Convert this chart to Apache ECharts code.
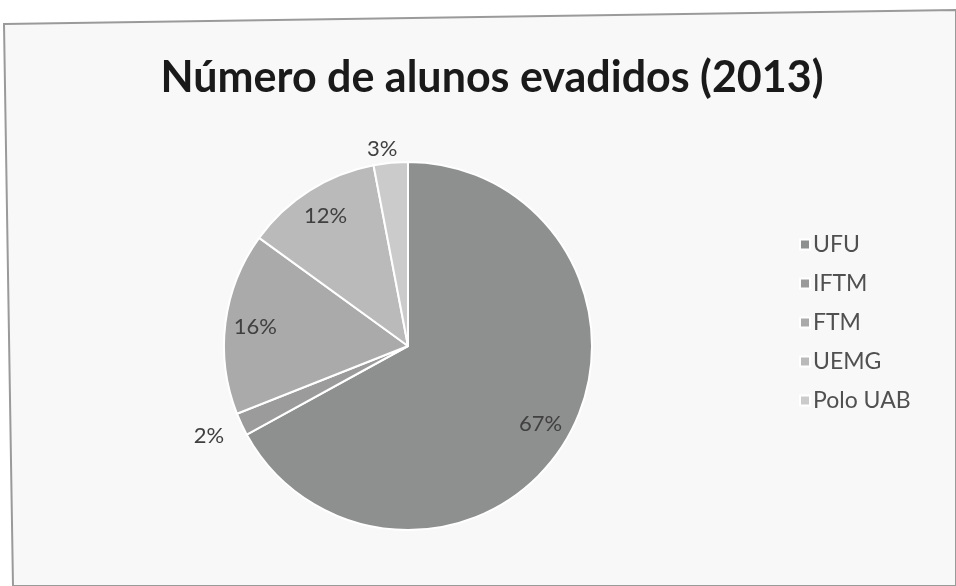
<!DOCTYPE html>
<html>
<head>
<meta charset="utf-8">
<script src="https://cdn.jsdelivr.net/npm/echarts@6/dist/echarts.min.js"></script>
<style>
  html, body { margin: 0; padding: 0; background: #ffffff; }
  #main { width: 956px; height: 586px; }
</style>
</head>
<body>
<div id="main"></div>
<script>
// dados
var categorias = ["UFU", "IFTM", "FTM", "UEMG", "Polo UAB"];
var percentuais = [67, 2, 16, 12, 3];
var cores = ["#8e8f8f", "#9b9b9b", "#aaaaaa", "#bababa", "#cbcbcb"];
// fatias pequenas ficam com rotulo de fora
var rotuloFora = [false, true, false, false, true];
var linhaRotulo = [0, 28, 0, 0, 14];

var myChart = echarts.init(document.getElementById("main"));

var dadosPizza = categorias.map(function (nome, i) {
  return {
    name: nome,
    value: percentuais[i],
    itemStyle: { color: cores[i] },
    label: { show: rotuloFora[i] },
    labelLine: { show: false, length: linhaRotulo[i], length2: 0 }
  };
});
var dadosRotulo = categorias.map(function (nome, i) {
  return {
    name: nome,
    value: percentuais[i],
    label: { show: !rotuloFora[i] }
  };
});

var option = {
  backgroundColor: "#ffffff",
  animation: false,
  title: {
    text: "Número de alunos evadidos (2013)",
    left: 487,
    top: 52,
    textAlign: "center",
    textStyle: {
      fontFamily: "Lato",
      fontWeight: "bold",
      fontSize: 43,
      color: "#1a1a1a"
    }
  },
  graphic: [
    {
      type: "polygon",
      z: -1,
      shape: { points: [[4, 24], [956, 10], [956, 586], [13, 586]] },
      style: { fill: "#f8f8f8", stroke: "#9a9a9a", lineWidth: 2 }
    }
  ],
  legend: {
    orient: "vertical",
    left: 794,
    top: 228,
    itemGap: 16,
    itemWidth: 10,
    itemHeight: 10,
    icon: "rect",
    data: categorias,
    textStyle: { fontFamily: "Lato", fontSize: 23, color: "#505050", padding: [0, 0, 0, -2] }
  },
  series: [
    {
      name: "Evadidos",
      type: "pie",
      center: [408, 346],
      radius: [0, 184],
      startAngle: 90,
      clockwise: true,
      avoidLabelOverlap: false,
      itemStyle: { borderColor: "#ffffff", borderWidth: 2 },
      label: {
        position: "outside",
        formatter: "{c}%",
        distanceToLabelLine: -8,
        fontFamily: "Lato",
        fontSize: 22,
        color: "#404040"
      },
      data: dadosPizza
    },
    {
      name: "Rotulos",
      type: "pie",
      center: [408, 346],
      radius: [118, 184],
      startAngle: 90,
      clockwise: true,
      silent: true,
      itemStyle: { color: "rgba(0,0,0,0)", borderWidth: 0 },
      label: {
        position: "inside",
        formatter: "{c}%",
        fontFamily: "Lato",
        fontSize: 22,
        color: "#404040"
      },
      labelLine: { show: false },
      data: dadosRotulo
    }
  ]
};
myChart.setOption(option);
</script>
</body>
</html>
